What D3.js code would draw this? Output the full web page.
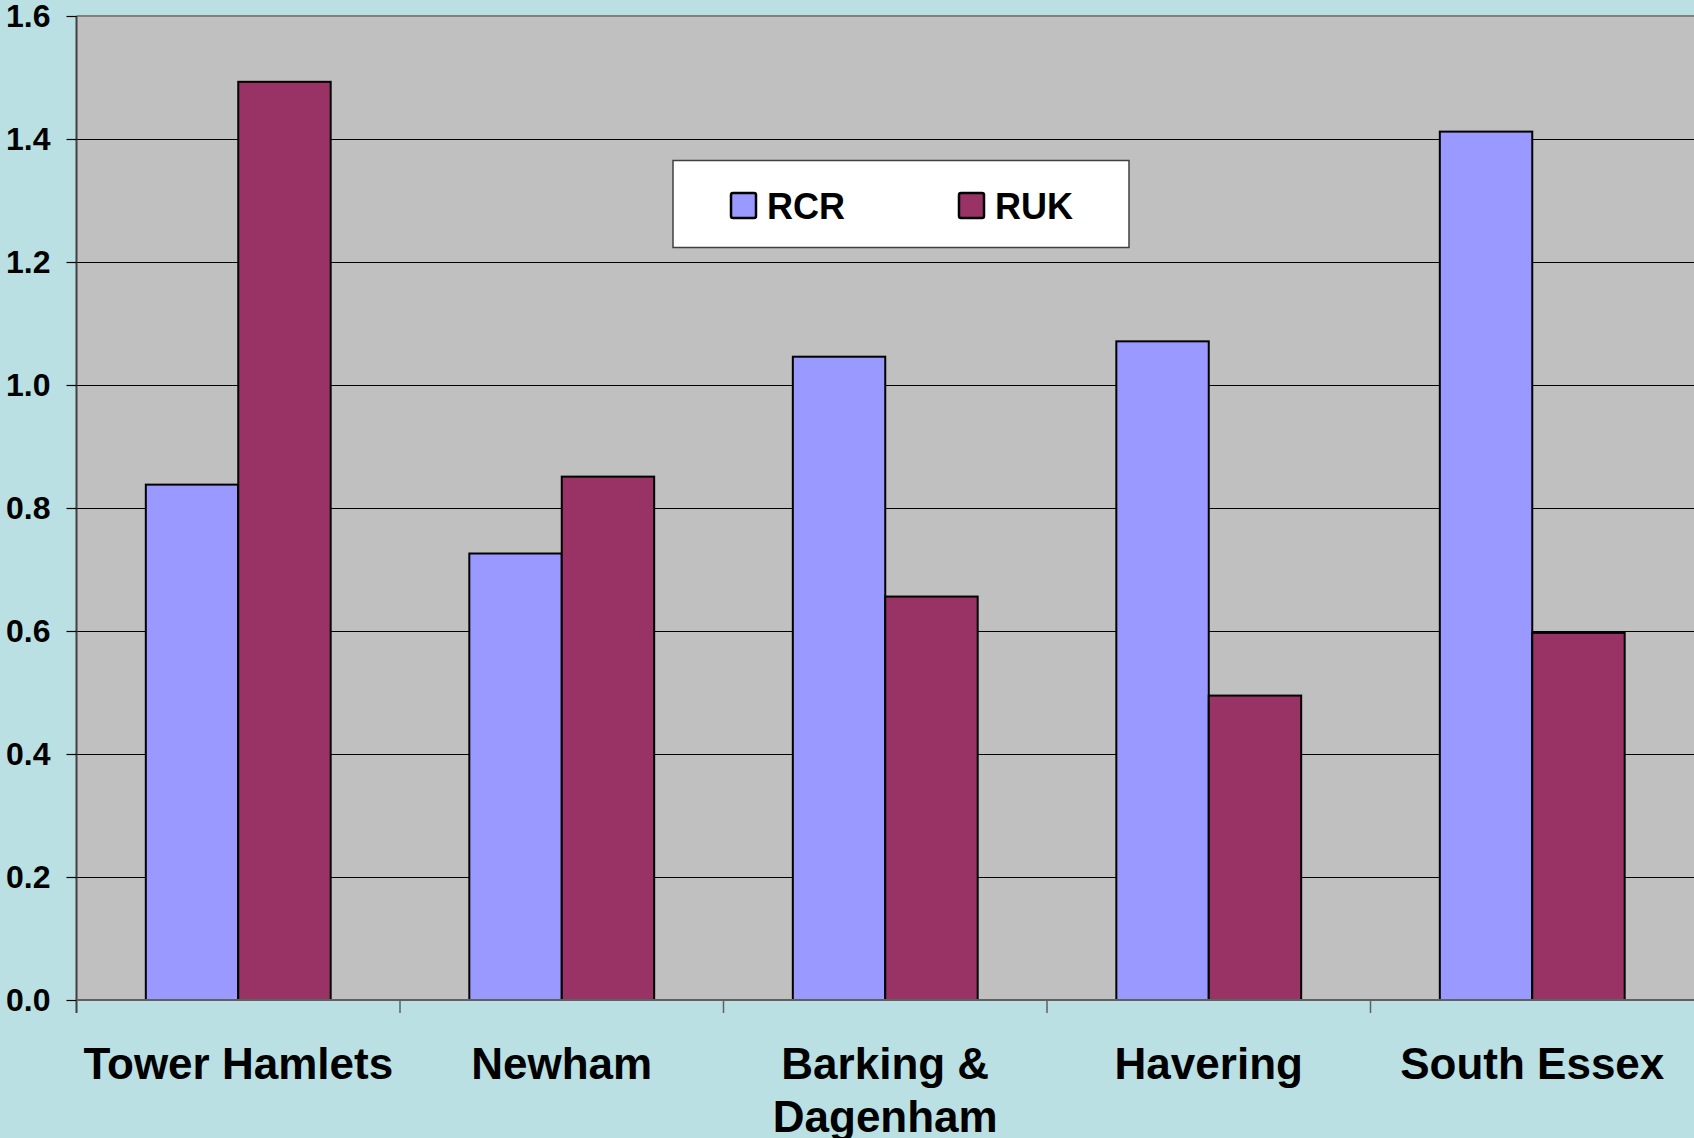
<!DOCTYPE html>
<html>
<head>
<meta charset="utf-8">
<script src="https://cdn.jsdelivr.net/npm/d3@7"></script>
<style>
  html, body { margin: 0; padding: 0; background: #BAE0E3; }
  svg { display: block; font-family: "Liberation Sans", Arial, sans-serif; font-weight: bold; }
</style>
</head>
<body>
<svg id="chart" width="1694" height="1138"></svg>
<script>
// Areas and the two ratio series
const categories = ["Tower Hamlets", "Newham", "Barking & Dagenham", "Havering", "South Essex"];
const seriesNames = ["RCR", "RUK"];
const rcrValues = [0.838, 0.726, 1.046, 1.071, 1.412];
const rukValues = [1.493, 0.851, 0.656, 0.495, 0.597];
const yTicks = [0.0, 0.2, 0.4, 0.6, 0.8, 1.0, 1.2, 1.4, 1.6];
const seriesColors = ["#9999FF", "#993366"];

const W = 1694, H = 1138;
const margin = { top: 16, left: 76.5, bottom: 138 };
const plotRight = 76.5 + 5 * 323.5;

const svg = d3.select("#chart");
svg.append("rect").attr("width", W).attr("height", H).attr("fill", "#BAE0E3");

const x = d3.scaleBand().domain(categories).range([margin.left, plotRight]).paddingInner(0).paddingOuter(0);
const y = d3.scaleLinear().domain([0, 1.6]).range([H - margin.bottom, margin.top]);

// bars fill 2/3.5 of each category (150% gap)
const groupPad = x.bandwidth() * 0.75 / 3.5;
const xs = d3.scaleBand().domain(seriesNames).range([groupPad, x.bandwidth() - groupPad]);

// plot area
svg.append("rect")
  .attr("x", margin.left).attr("y", margin.top)
  .attr("width", plotRight - margin.left).attr("height", y(0) - margin.top)
  .attr("fill", "#C0C0C0");

// gridlines
svg.append("g").selectAll("line").data(yTicks.filter(d => d > 0 && d < 1.6)).join("line")
  .attr("x1", margin.left).attr("x2", plotRight)
  .attr("y1", d => Math.round(y(d)) + 0.5).attr("y2", d => Math.round(y(d)) + 0.5)
  .attr("stroke", "#000").attr("stroke-width", 1.2);

// top border
svg.append("line")
  .attr("x1", margin.left).attr("x2", plotRight)
  .attr("y1", margin.top).attr("y2", margin.top)
  .attr("stroke", "#808080").attr("stroke-width", 2);

// bars
const data = categories.map((c, i) => ({ cat: c, vals: [rcrValues[i], rukValues[i]] }));
const groups = svg.append("g").selectAll("g").data(data).join("g")
  .attr("transform", d => `translate(${x(d.cat)},0)`);
groups.selectAll("rect").data(d => d.vals.map((v, j) => ({ v, s: seriesNames[j], j }))).join("rect")
  .attr("x", d => xs(d.s))
  .attr("width", xs.bandwidth())
  .attr("y", d => y(d.v))
  .attr("height", d => y(0) - y(d.v))
  .attr("fill", d => seriesColors[d.j])
  .attr("stroke", "#000").attr("stroke-width", 2);

// y axis
const yAxis = d3.axisLeft(y).tickValues(yTicks).tickFormat(d3.format(".1f")).tickSize(10).tickPadding(16);
const yg = svg.append("g").attr("transform", `translate(${margin.left},0)`).call(yAxis);
yg.select(".domain").attr("stroke", "#404040").attr("stroke-width", 2)
  .attr("d", `M0,${margin.top}V${y(0) + 13}`);
yg.selectAll(".tick line").attr("stroke", "#000").attr("stroke-width", 1.2);
yg.selectAll(".tick text").attr("font-size", 32).attr("font-weight", "bold")
  .attr("fill", "#000").attr("font-family", "'Liberation Sans', Arial, sans-serif");

// x axis
const xAxis = d3.axisBottom(x).tickSize(0).tickFormat("");
const xg = svg.append("g").attr("transform", `translate(0,${y(0)})`).call(xAxis);
xg.select(".domain").attr("stroke", "#606060").attr("stroke-width", 2)
  .attr("d", `M${margin.left},0H${plotRight}`);
xg.selectAll(".tick").remove();
// category boundary ticks
svg.append("g").selectAll("line").data(categories.slice(1)).join("line")
  .attr("x1", d => x(d)).attr("x2", d => x(d))
  .attr("y1", y(0)).attr("y2", y(0) + 13)
  .attr("stroke", "#606060").attr("stroke-width", 1.5);

// category labels, wrapped to the band width
const labelSize = 44;
const labels = svg.append("g").selectAll("text").data(categories).join("text")
  .attr("x", d => x(d) + x.bandwidth() / 2)
  .attr("y", y(0) + 79)
  .attr("text-anchor", "middle")
  .attr("font-size", labelSize)
  .attr("fill", "#000");
labels.each(function(d) {
  const t = d3.select(this);
  const words = d.split(" ");
  let line = [], lines = [];
  const probe = t.append("tspan");
  words.forEach(w => {
    line.push(w);
    probe.text(line.join(" "));
    if (probe.node().getComputedTextLength() > x.bandwidth() - 6 && line.length > 1) {
      line.pop();
      lines.push(line.join(" "));
      line = [w];
    }
  });
  lines.push(line.join(" "));
  probe.remove();
  lines.forEach((l, k) => {
    t.append("tspan").attr("x", x(d) + x.bandwidth() / 2).attr("dy", k === 0 ? 0 : 53).text(l);
  });
});

// legend
const lg = svg.append("g");
lg.append("rect").attr("x", 673).attr("y", 160.5).attr("width", 456).attr("height", 87)
  .attr("fill", "#fff").attr("stroke", "#404040").attr("stroke-width", 1.5);
const legendX = [731, 959];
seriesNames.forEach((s, i) => {
  lg.append("rect").attr("x", legendX[i]).attr("y", 193).attr("width", 25).attr("height", 25)
    .attr("rx", 2).attr("fill", seriesColors[i]).attr("stroke", "#000").attr("stroke-width", 2.5);
  lg.append("text").attr("x", legendX[i] + 36).attr("y", 219)
    .attr("font-size", 36).attr("fill", "#000").text(s);
});
</script>
</body>
</html>
